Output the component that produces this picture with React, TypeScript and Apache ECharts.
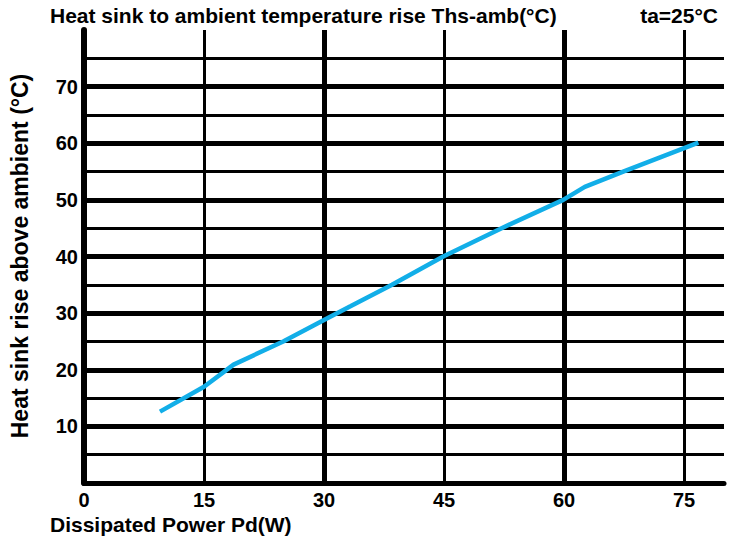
import React, { useEffect, useRef } from "react";
import * as echarts from "echarts";

const powerW = [9.5, 15, 18.7, 24.9, 30, 33.3, 38.5, 44.9, 52.2, 59.9, 62.6, 67.4, 76.8];
const riseC = [12.6, 17.0, 20.9, 25, 28.8, 31.2, 35, 40, 45, 50, 52.3, 55, 60.1];
const xTickLabels = [0, 15, 30, 45, 60, 75];
const yTickLabels = [10, 20, 30, 40, 50, 60, 70];
const thickX = [30, 60];
const thinX = [15, 45, 75];
const thickY = [10, 20, 30, 40, 50, 60, 70];
const thinY = [5, 15, 25, 35, 45, 55, 65, 75];

const FONT = "'Liberation Sans', Arial, Helvetica, sans-serif";

export default function App() {
  const ref = useRef<HTMLDivElement>(null);
  useEffect(() => {
    if (!ref.current) return;
    const chart = echarts.init(ref.current, undefined, { renderer: "svg" });
    const gridLines: any[] = [
      ...thinY.map((v) => ({ yAxis: v, lineStyle: { width: 3 } })),
      ...thickY.map((v) => ({ yAxis: v, lineStyle: { width: 5 } })),
      ...thinX.map((v) => ({ xAxis: v, lineStyle: { width: 3 } })),
      ...thickX.map((v) => ({ xAxis: v, lineStyle: { width: 5 } })),
    ];
    chart.setOption({
      animation: false,
      backgroundColor: "#ffffff",
      grid: { left: 84, right: 10, top: 30, bottom: 54, containLabel: false },
      xAxis: {
        type: "value",
        min: 0,
        max: 80,
        interval: 15,
        axisLine: { show: true, onZero: false, lineStyle: { color: "#000", width: 5 } },
        axisTick: { show: false },
        splitLine: { show: false },
        axisLabel: {
          margin: 7,
          color: "#000",
          fontFamily: FONT,
          fontWeight: "bold",
          fontSize: 20,
          formatter: (v: number) => (xTickLabels.includes(v) ? String(v) : ""),
        },
      },
      yAxis: {
        type: "value",
        min: 0,
        max: 80,
        interval: 10,
        axisLine: { show: true, onZero: false, lineStyle: { color: "#000", width: 6 } },
        axisTick: { show: false },
        splitLine: { show: false },
        axisLabel: {
          margin: 6,
          color: "#000",
          fontFamily: FONT,
          fontWeight: "bold",
          fontSize: 20,
          formatter: (v: number) => (yTickLabels.includes(v) ? String(v) : ""),
        },
      },
      graphic: [
        {
          type: "text",
          x: 50,
          y: 15,
          style: {
            text: "Heat sink to ambient temperature rise Ths-amb(°C)",
            fill: "#000",
            font: `bold 21px ${FONT}`,
            align: "left",
            verticalAlign: "middle",
          },
        },
        {
          type: "text",
          x: 718,
          y: 15,
          style: {
            text: "ta=25°C",
            fill: "#000",
            font: `bold 21px ${FONT}`,
            align: "right",
            verticalAlign: "middle",
          },
        },
        {
          type: "text",
          x: 50,
          y: 524,
          style: {
            text: "Dissipated Power Pd(W)",
            fill: "#000",
            font: `bold 21px ${FONT}`,
            align: "left",
            verticalAlign: "middle",
          },
        },
        {
          type: "text",
          x: 20,
          y: 256,
          rotation: Math.PI / 2,
          style: {
            text: "Heat sink rise above ambient (°C)",
            fill: "#000",
            font: `bold 23px ${FONT}`,
            align: "center",
            verticalAlign: "middle",
          },
        },
      ],
      series: [
        {
          type: "line",
          data: [],
          z: 1,
          silent: true,
          markLine: {
            silent: true,
            symbol: "none",
            label: { show: false },
            emphasis: { disabled: true },
            lineStyle: { color: "#000", type: "solid" },
            data: gridLines,
          },
        },
        {
          type: "line",
          z: 5,
          data: powerW.map((x, i) => [x, riseC[i]]),
          showSymbol: false,
          symbol: "none",
          lineStyle: { color: "#12aee8", width: 4.5 },
          itemStyle: { color: "#12aee8" },
        },
      ],
    });
    return () => chart.dispose();
  }, []);
  return <div ref={ref} style={{ width: 734, height: 537, position: "absolute", left: 0, top: 0 }} />;
}
